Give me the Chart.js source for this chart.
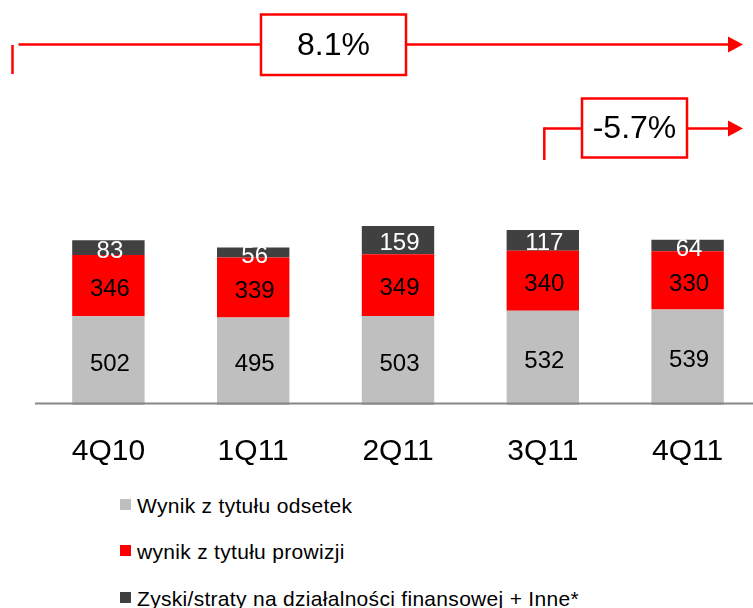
<!DOCTYPE html>
<html><head><meta charset="utf-8">
<script src="https://cdn.jsdelivr.net/npm/chart.js@4.4.0/dist/chart.umd.min.js"></script>
<style>
html,body{margin:0;padding:0;background:#fff;width:753px;height:608px;overflow:hidden;position:relative;font-family:"Liberation Sans",Arial,sans-serif;}
#wrap{position:absolute;left:0;top:0;width:760px;height:470px;}
.leg{position:absolute;left:120px;height:24px;font-size:21px;letter-spacing:0.3px;color:#000;white-space:nowrap;}
.leg i{position:absolute;left:0;top:5px;width:11px;height:11px;}
.leg span{position:absolute;left:17px;top:0;line-height:24px;}
</style></head><body>
<div id="wrap"><canvas id="c"></canvas></div>
<div id="legend"></div>
<script>
const categories = ['4Q10','1Q11','2Q11','3Q11','4Q11'];
const seriesNames = ['Wynik z tytułu odsetek','wynik z tytułu prowizji','Zyski/straty na działalności finansowej + Inne*'];
const interestIncome = [502,495,503,532,539];
const feeIncome = [346,339,349,340,330];
const otherIncome = [83,56,159,117,64];
const seriesColors = ['#BFBFBF','#FF0000','#404040'];
const labelColors = ['#000000','#000000','#FFFFFF'];
const growthLabels = ['8.1%','-5.7%'];

const FONT = '"Liberation Sans", Arial, sans-serif';
const seriesValues = [interestIncome, feeIncome, otherIncome];

const datasets = seriesValues.map((vals,i)=>({
  label: seriesNames[i],
  data: vals,
  backgroundColor: seriesColors[i],
  borderWidth: 0,
  barPercentage: 0.5,
  categoryPercentage: 1.0
}));

const valueLabels = {
  id:'valueLabels',
  afterDatasetsDraw(chart){
    const ctx = chart.ctx;
    const ys = chart.scales.y;
    const a = chart.chartArea;
    ctx.save();
    ctx.strokeStyle = '#878787';
    ctx.lineWidth = 2;
    const y0 = ys.getPixelForValue(0) - 1.5;
    ctx.beginPath(); ctx.moveTo(a.left - 1, y0); ctx.lineTo(chart.width, y0); ctx.stroke();
    ctx.font = '24px ' + FONT;
    ctx.textAlign = 'center';
    ctx.textBaseline = 'middle';
    chart.data.datasets.forEach((ds,i)=>{
      const meta = chart.getDatasetMeta(i);
      ctx.fillStyle = labelColors[i];
      meta.data.forEach((bar,j)=>{
        const cy = (bar.y + bar.base)/2 + 3.5;
        ctx.fillText(String(ds.data[j]), bar.x + 1.5, cy);
      });
    });
    ctx.restore();
  }
};

const growthArrows = {
  id:'growthArrows',
  afterDraw(chart){
    const ctx = chart.ctx;
    const xs = chart.scales.x;
    const a = chart.chartArea;
    ctx.save();
    ctx.strokeStyle = '#FF0000';
    ctx.fillStyle = '#FF0000';
    ctx.lineWidth = 2.5;
    const line = (x1,y1,x2,y2)=>{ctx.beginPath();ctx.moveTo(x1,y1);ctx.lineTo(x2,y2);ctx.stroke();};
    const head = (tx,ty)=>{ctx.beginPath();ctx.moveTo(tx,ty);ctx.lineTo(tx-15,ty-8);ctx.lineTo(tx-15,ty+8);ctx.closePath();ctx.fill();};
    const box = (x,y,w,h,t)=>{
      ctx.fillStyle='#FFFFFF'; ctx.fillRect(x,y,w,h);
      ctx.lineWidth=2.5; ctx.strokeStyle='#FF0000'; ctx.strokeRect(x,y,w,h);
      ctx.fillStyle='#000000'; ctx.font='32px '+FONT; ctx.textAlign='center'; ctx.textBaseline='middle';
      ctx.fillText(t, x+w/2, y+h/2+1.5);
      ctx.fillStyle='#FF0000';
    };
    const tip = 743;
    const xl = a.left - 23.5, y1 = 44.5;
    line(xl,45,xl,74);
    line(xl+6,y1,tip-14,y1);
    head(tip,y1);
    box(261,14.5,145,60.5,growthLabels[0]);
    const x2 = xs.getPixelForValue(3) + 1.5, y2 = 128.5;
    line(x2,160,x2,y2-1.2);
    line(x2,y2,tip-14,y2);
    head(tip,y2);
    box(582,98.5,105,59,growthLabels[1]);
    ctx.restore();
  }
};

new Chart(document.getElementById('c'),{
  type:'bar',
  data:{labels:categories, datasets},
  options:{
    responsive:true,
    maintainAspectRatio:false,
    animation:false,
    layout:{padding:{left:36,right:0,top:183.75,bottom:0}},
    plugins:{legend:{display:false},tooltip:{enabled:false}},
    scales:{
      x:{stacked:true, offset:true,
         grid:{display:false, drawTicks:false},
         border:{display:false},
         ticks:{color:'#000', font:{family:FONT,size:30}, padding:29, maxRotation:0},
         afterFit(scale){ scale.height = 65; }},
      y:{stacked:true, display:false, min:0, max:1250}
    }
  },
  plugins:[valueLabels, growthArrows]
});

const legendTops = [494, 540, 587];
const legendEl = document.getElementById('legend');
seriesNames.forEach((n,i)=>{
  const d = document.createElement('div');
  d.className='leg';
  d.style.top = legendTops[i] + 'px';
  const sq = document.createElement('i'); sq.style.background = seriesColors[i];
  const sp = document.createElement('span'); sp.textContent = n;
  d.appendChild(sq); d.appendChild(sp);
  legendEl.appendChild(d);
});
</script>
</body></html>
